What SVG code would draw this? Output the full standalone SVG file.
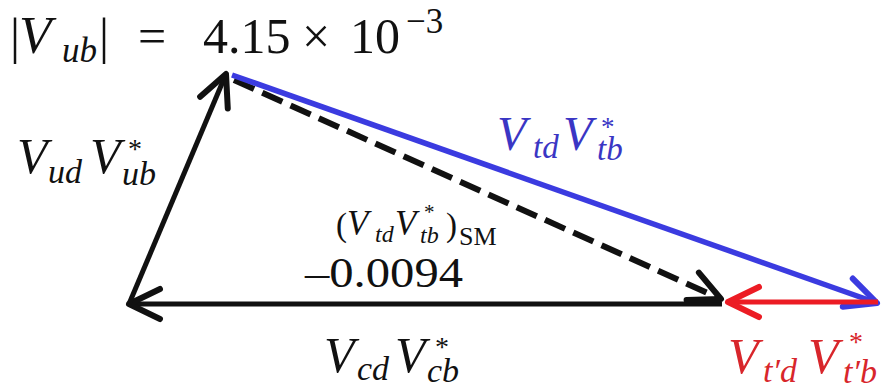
<svg xmlns="http://www.w3.org/2000/svg" width="883" height="390" viewBox="0 0 883 390">
<defs>
<style>
text{font-family:"Liberation Serif","Times New Roman","DejaVu Serif",serif;}
.i{font-style:italic;}
.n{font-style:normal;}
.blk{fill:#111111;}
.blu{fill:#3a36c4;}
.red{fill:#d8262b;}
.ln{fill:none;stroke-linecap:butt;}
</style>
<marker id="mk" markerUnits="userSpaceOnUse" markerWidth="60" markerHeight="60" viewBox="-40 -30 60 60" refX="0" refY="0" orient="auto" overflow="visible"><path d="M-31,-15 L0,0 L-31,15" fill="none" stroke="#111111" stroke-width="6" stroke-linecap="round" stroke-linejoin="round"/></marker>
<marker id="mb" markerUnits="userSpaceOnUse" markerWidth="60" markerHeight="60" viewBox="-40 -30 60 60" refX="0" refY="0" orient="auto" overflow="visible"><path d="M-31,-15 L0,0 L-31,15" fill="none" stroke="#3b3be0" stroke-width="6" stroke-linecap="round" stroke-linejoin="round"/></marker>
<marker id="mr" markerUnits="userSpaceOnUse" markerWidth="60" markerHeight="60" viewBox="-40 -30 60 60" refX="0" refY="0" orient="auto" overflow="visible"><path d="M-31,-15 L0,0 L-31,15" fill="none" stroke="#ec1c24" stroke-width="6" stroke-linecap="round" stroke-linejoin="round"/></marker>
</defs>
<rect width="883" height="390" fill="#ffffff"/>
<g id="connectors">
<line id="e-cd" class="ln" x1="722" y1="304" x2="129" y2="304" stroke="#111111" stroke-width="5" marker-end="url(#mk)"/>
<line id="e-ud" class="ln" x1="129" y1="304" x2="226" y2="74" stroke="#111111" stroke-width="5" marker-end="url(#mk)"/>
<line id="e-sm" class="ln" x1="234" y1="80" x2="721" y2="299" stroke="#111111" stroke-width="6" stroke-dasharray="22 9" marker-end="url(#mk)"/>
<line id="e-td" class="ln" x1="232" y1="75" x2="877" y2="303" stroke="#3b3be0" stroke-width="5.5" marker-end="url(#mb)"/>
<line id="e-tp" class="ln" x1="878" y1="302" x2="728" y2="302" stroke="#ec1c24" stroke-width="5" marker-end="url(#mr)"/>
</g>
<g id="title" class="blk">
<text font-size="50"><tspan x="10" y="53">|</tspan><tspan x="19" y="53" class="i" font-size="53">V</tspan><tspan x="62" y="62" class="i" font-size="35">ub</tspan><tspan x="99" y="53">|</tspan><tspan x="138" y="53">=</tspan><tspan x="203" y="53">4.15</tspan><tspan x="302" y="53">×</tspan><tspan x="350" y="53">10</tspan><tspan x="406" y="33" font-size="35">−3</tspan></text>
</g>
<g id="label-ud" class="blk">
<text font-size="48"><tspan x="17" y="173" class="i" font-size="50">V</tspan><tspan x="48" y="183" class="i" font-size="34">ud</tspan><tspan x="90" y="173" class="i" font-size="50">V</tspan><tspan x="128" y="158" font-size="28">*</tspan><tspan x="122" y="185" class="i" font-size="34">ub</tspan></text>
</g>
<g id="label-td" class="blu">
<text font-size="46"><tspan x="497" y="150" class="i" font-size="48">V</tspan><tspan x="533" y="158" class="i" font-size="33">td</tspan><tspan x="563" y="150" class="i" font-size="48">V</tspan><tspan x="601" y="136" font-size="27">*</tspan><tspan x="597" y="160" class="i" font-size="33">tb</tspan></text>
</g>
<g id="label-sm" class="blk">
<text font-size="33"><tspan x="336" y="236">(</tspan><tspan x="347" y="235" class="i" font-size="35">V</tspan><tspan x="375" y="242" class="i" font-size="24">td</tspan><tspan x="395" y="235" class="i" font-size="35">V</tspan><tspan x="424" y="219" font-size="21">*</tspan><tspan x="420" y="243" class="i" font-size="24">tb</tspan><tspan x="446" y="236">)</tspan><tspan x="459" y="245" font-size="26">SM</tspan></text>
</g>
<g id="label-val" class="blk">
<text x="305" y="287" font-size="42" textLength="158" lengthAdjust="spacingAndGlyphs">–0.0094</text>
</g>
<g id="label-cd" class="blk">
<text font-size="48"><tspan x="324" y="372" class="i" font-size="50">V</tspan><tspan x="357" y="380" class="i" font-size="34">cd</tspan><tspan x="395" y="372" class="i" font-size="50">V</tspan><tspan x="435" y="356" font-size="28">*</tspan><tspan x="427" y="382" class="i" font-size="34">cb</tspan></text>
</g>
<g id="label-tp" class="red">
<text font-size="48"><tspan x="728" y="373" class="i" font-size="50">V</tspan><tspan x="763" y="382" class="i" font-size="34">t′d</tspan><tspan x="808" y="373" class="i" font-size="50">V</tspan><tspan x="849" y="351" font-size="28">*</tspan><tspan x="843" y="383" class="i" font-size="34">t′b</tspan></text>
</g>
</svg>
